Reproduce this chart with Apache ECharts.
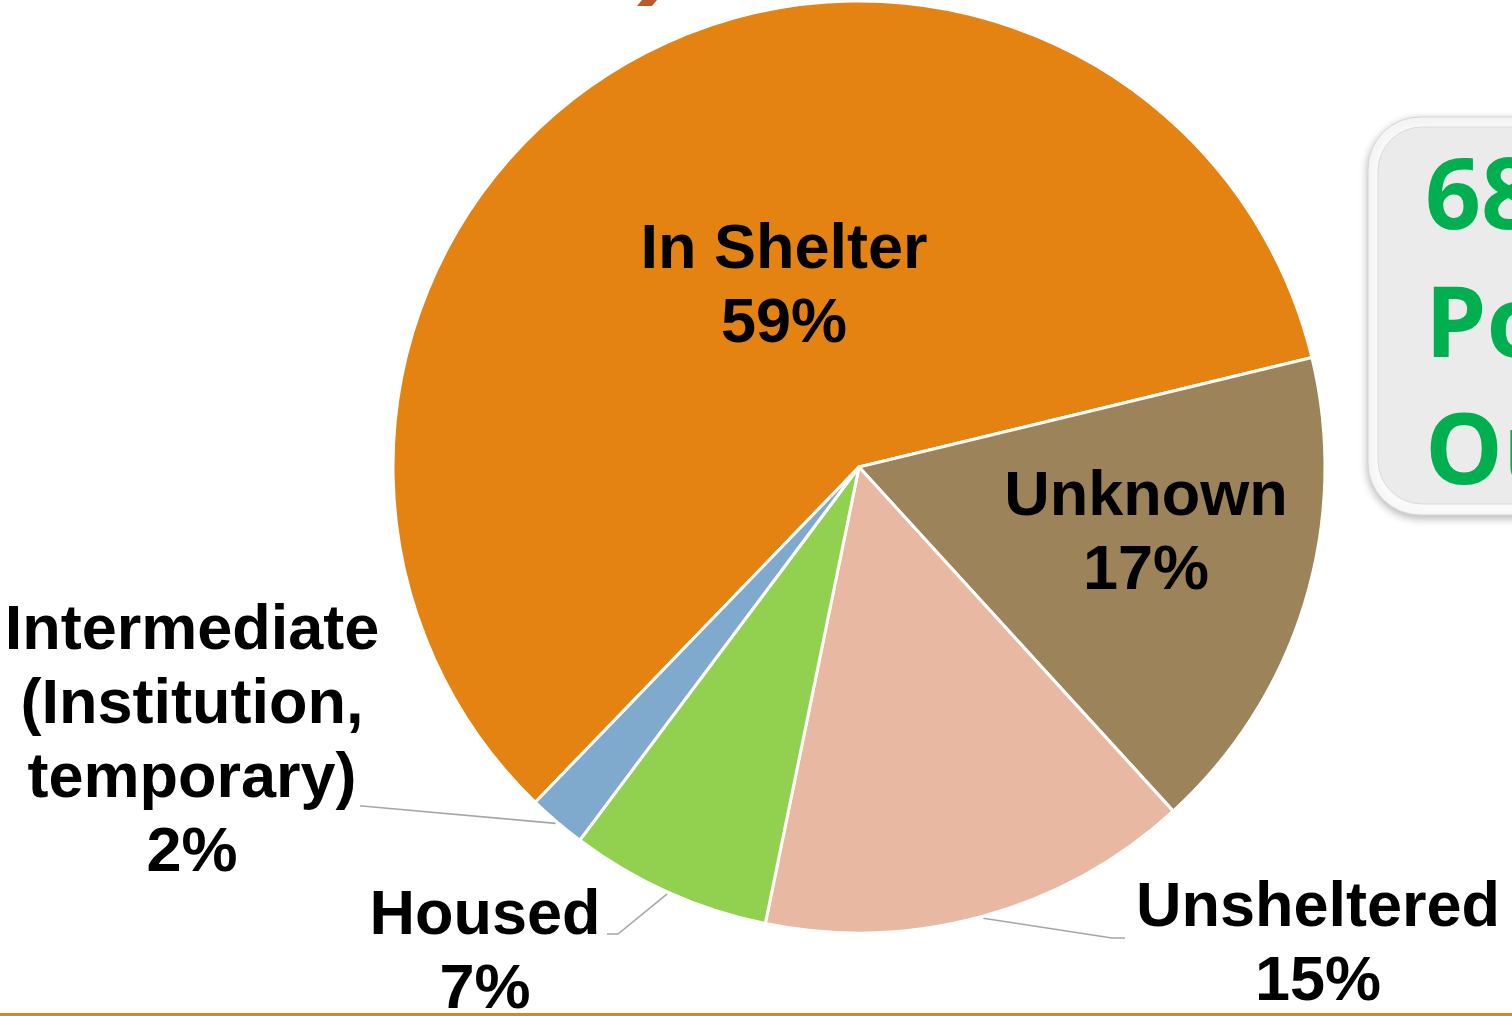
<!DOCTYPE html>
<html>
<head>
<meta charset="utf-8">
<script src="https://cdn.jsdelivr.net/npm/echarts@6/dist/echarts.min.js"></script>
<style>
  html, body { margin: 0; padding: 0; background: #fff; }
  #chart { width: 1512px; height: 1016px; }
</style>
</head>
<body>
<div id="chart"></div>
<script>
// Where people were at follow-up, share of total (%)
const categories = [
  'In Shelter',
  'Unknown',
  'Unsheltered',
  'Housed',
  'Intermediate\n(Institution,\ntemporary)'
];
const shares = [59, 17, 15, 7, 2];
const sliceColors = ['#E48312', '#9C835A', '#E9B8A2', '#92D050', '#7FAACE'];

// Callout box lines on the right edge
const calloutLines = ['68%', 'Positive', 'Outcomes'];

const CENTER = [859, 467];
const RADIUS = 466;
const START_ANGLE = 226;

// Label block centres and leader-line bends, keyed by slice index
const labelPlacement = {
  0: { x: 784, y: 288 },
  1: { x: 1146, y: 535 },
  2: { x: 1318, y: 946, line: [[1112, 938], [1125, 938]] },
  3: { x: 485, y: 954, line: [[618, 934], [607, 934]] },
  4: { x: 192, y: 743, line: [[362, 806], [360, 806]] }
};

// Point on the outer rim at the middle of slice i
function rimMidPoint(i) {
  const total = shares.reduce((a, b) => a + b, 0);
  let before = 0;
  for (let k = 0; k < i; k++) before += shares[k];
  const mid = START_ANGLE - (before + shares[i] / 2) / total * 360;
  const rad = mid * Math.PI / 180;
  const r = RADIUS + 2;
  return [CENTER[0] + r * Math.cos(rad), CENTER[1] - r * Math.sin(rad)];
}

const chart = echarts.init(document.getElementById('chart'), null, { renderer: 'canvas' });

const insideSet = new Set([0, 1]);

chart.setOption({
  animation: false,
  backgroundColor: '#ffffff',
  series: [{
    type: 'pie',
    center: CENTER,
    radius: RADIUS,
    startAngle: START_ANGLE,
    clockwise: true,
    avoidLabelOverlap: false,
    itemStyle: { borderColor: '#ffffff', borderWidth: 3 },
    emphasis: { disabled: true },
    label: {
      show: true,
      formatter: '{b}\n{c}%',
      color: '#000000',
      fontFamily: '"Liberation Sans", Arial, sans-serif',
      fontWeight: 'bold',
      fontSize: 63,
      lineHeight: 74,
      align: 'center'
    },
    labelLine: {
      show: true,
      lineStyle: { color: '#A6A6A6', width: 1.6 }
    },
    labelLayout: function (params) {
      const p = labelPlacement[params.dataIndex];
      const out = {
        x: p.x,
        y: p.y,
        align: 'center',
        verticalAlign: 'middle'
      };
      if (p.line) {
        out.labelLinePoints = [rimMidPoint(params.dataIndex), p.line[0], p.line[1]];
      }
      return out;
    },
    data: categories.map((name, i) => ({
      name: name,
      value: shares[i],
      itemStyle: { color: sliceColors[i] },
      label: { position: insideSet.has(i) ? 'inside' : 'outside' },
      labelLine: { show: !insideSet.has(i) }
    }))
  }],
  graphic: [
    // descender of the page heading, cut by the top edge
    {
      type: 'polygon',
      shape: { points: [[642, 0], [657, 0], [652, 6], [637, 6]] },
      style: { fill: '#C0562B' },
      silent: true
    },
    // rounded callout panel on the right
    {
      type: 'rect',
      shape: { x: 1368, y: 117, width: 320, height: 398, r: 52 },
      style: {
        fill: '#FAFAFA',
        stroke: '#D6D6D6',
        lineWidth: 1,
        shadowBlur: 8,
        shadowOffsetY: 3,
        shadowColor: 'rgba(0,0,0,0.28)'
      },
      silent: true
    },
    {
      type: 'rect',
      shape: { x: 1378, y: 127, width: 320, height: 377, r: 44 },
      style: { fill: '#EBEBEB', stroke: '#DADADA', lineWidth: 1 },
      silent: true
    },
    {
      type: 'text',
      x: 1425, y: 201,
      style: {
        text: calloutLines[0],
        fill: '#00B050',
        font: 'bold 98px "Open Sans", sans-serif',
        verticalAlign: 'middle'
      },
      silent: true
    },
    {
      type: 'text',
      x: 1425, y: 329,
      style: {
        text: calloutLines[1],
        fill: '#00B050',
        font: 'bold 98px "Open Sans", sans-serif',
        verticalAlign: 'middle'
      },
      silent: true
    },
    {
      type: 'text',
      x: 1425, y: 456,
      style: {
        text: calloutLines[2],
        fill: '#00B050',
        font: 'bold 98px "Open Sans", sans-serif',
        verticalAlign: 'middle'
      },
      silent: true
    },
    // orange rule along the bottom edge
    {
      type: 'rect',
      shape: { x: 0, y: 1013, width: 1512, height: 3 },
      style: { fill: '#E48312' },
      silent: true
    }
  ]
});
</script>
</body>
</html>
